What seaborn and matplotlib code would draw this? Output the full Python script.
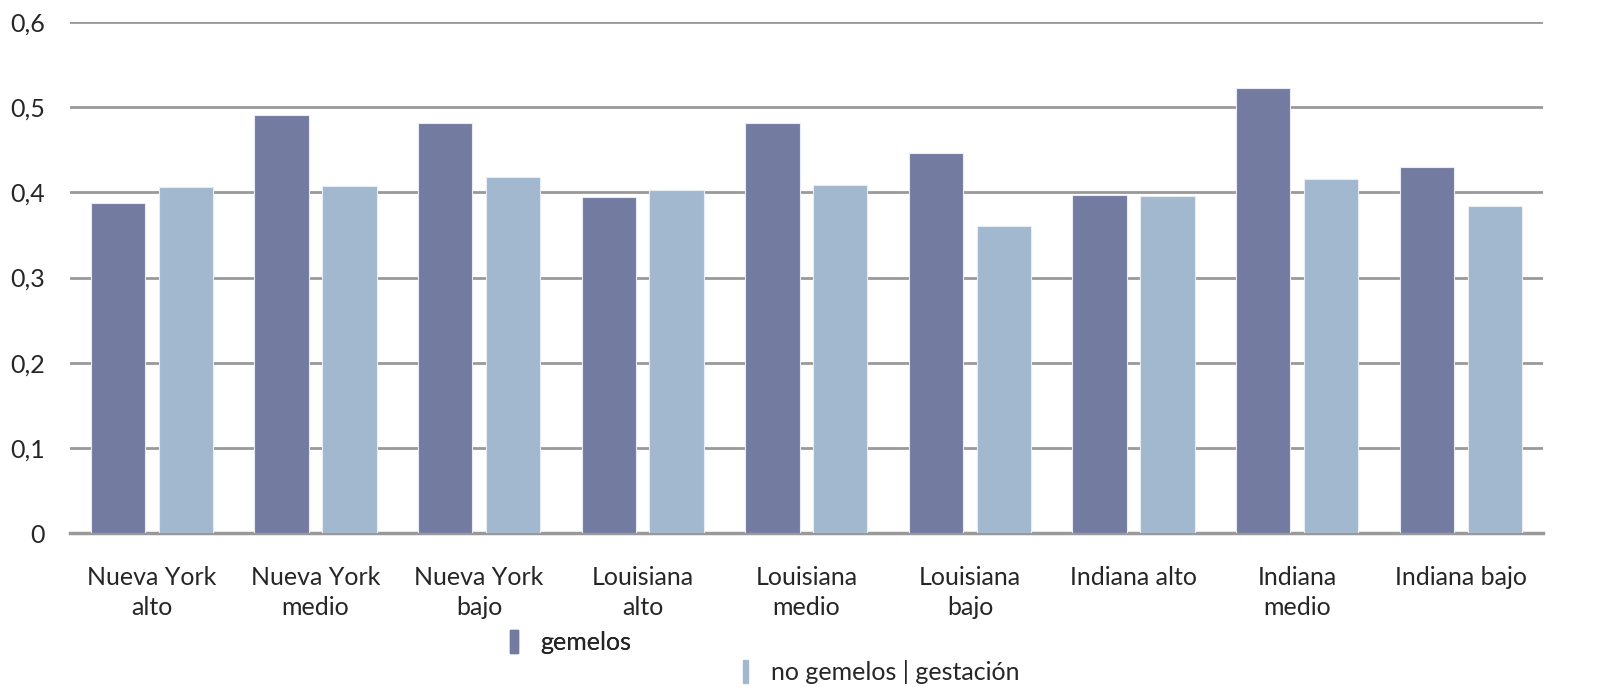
import numpy as np
import pandas as pd
import matplotlib
matplotlib.use('Agg')
import matplotlib.pyplot as plt
import seaborn as sns
from matplotlib.ticker import FuncFormatter
from matplotlib.patches import Rectangle

categorias = ['Nueva York\nalto', 'Nueva York\nmedio', 'Nueva York\nbajo',
              'Louisiana\nalto', 'Louisiana\nmedio', 'Louisiana\nbajo',
              'Indiana alto', 'Indiana\nmedio', 'Indiana bajo']
gemelos = [0.388, 0.491, 0.481, 0.395, 0.481, 0.446, 0.397, 0.523, 0.430]
no_gemelos = [0.406, 0.407, 0.418, 0.403, 0.409, 0.360, 0.396, 0.416, 0.384]
series = ['gemelos', 'no gemelos | gestación']
colores = ['#737BA0', '#A2B8CE']

df = pd.DataFrame({
    'categoria': categorias * 2,
    'valor': gemelos + no_gemelos,
    'serie': [series[0]] * len(categorias) + [series[1]] * len(categorias),
})

sns.set_style('white')
plt.rcParams['font.family'] = ['Lato', 'DejaVu Sans']

fig = plt.figure(figsize=(16.17, 6.87), dpi=100)
ax = fig.add_axes([0.0433, 0.224, 0.9107, 0.744])

sns.barplot(data=df, x='categoria', y='valor', hue='serie', palette=colores,
            saturation=1, width=0.83, gap=0.2, edgecolor='#E8ECF4', linewidth=0.8,
            ax=ax, legend=False, zorder=3)

ax.set_ylim(0, 0.6)
ax.set_xlim(-0.5, len(categorias) - 0.5)
ax.set_yticks(np.arange(0, 0.61, 0.1))
ax.yaxis.set_major_formatter(FuncFormatter(
    lambda v, p: '0' if abs(v) < 1e-9 else f'{v:.1f}'.replace('.', ',')))
ax.grid(axis='y', color='#999999', linewidth=2, zorder=0)
ax.set_axisbelow(True)
for s in ['top', 'right', 'left']:
    ax.spines[s].set_visible(False)
ax.spines['bottom'].set_color('#999999')
ax.spines['bottom'].set_linewidth(2.5)
ax.set_xlabel('')
ax.set_ylabel('')
ax.tick_params(axis='y', length=0, pad=18, labelsize=18)
ax.tick_params(axis='x', length=0, pad=24, labelsize=18)
for lbl in ax.get_xticklabels():
    lbl.set_verticalalignment('top')
    lbl.set_linespacing(1.35)

h1 = [Rectangle((0, 0), 1, 1, color=colores[0])]
h2 = [Rectangle((0, 0), 1, 1, color=colores[1])]
leg1 = fig.legend(h1, [series[0]], loc='center', bbox_to_anchor=(0.353, 0.065),
                  frameon=False, fontsize=18, handlelength=0.3, handleheight=1.0,
                  handletextpad=0.9)
fig.add_artist(leg1)
fig.legend(h2, [series[1]], loc='center', bbox_to_anchor=(0.545, 0.022),
           frameon=False, fontsize=18, handlelength=0.2, handleheight=1.0,
           handletextpad=0.9)

fig.savefig('out.png', dpi=100)
